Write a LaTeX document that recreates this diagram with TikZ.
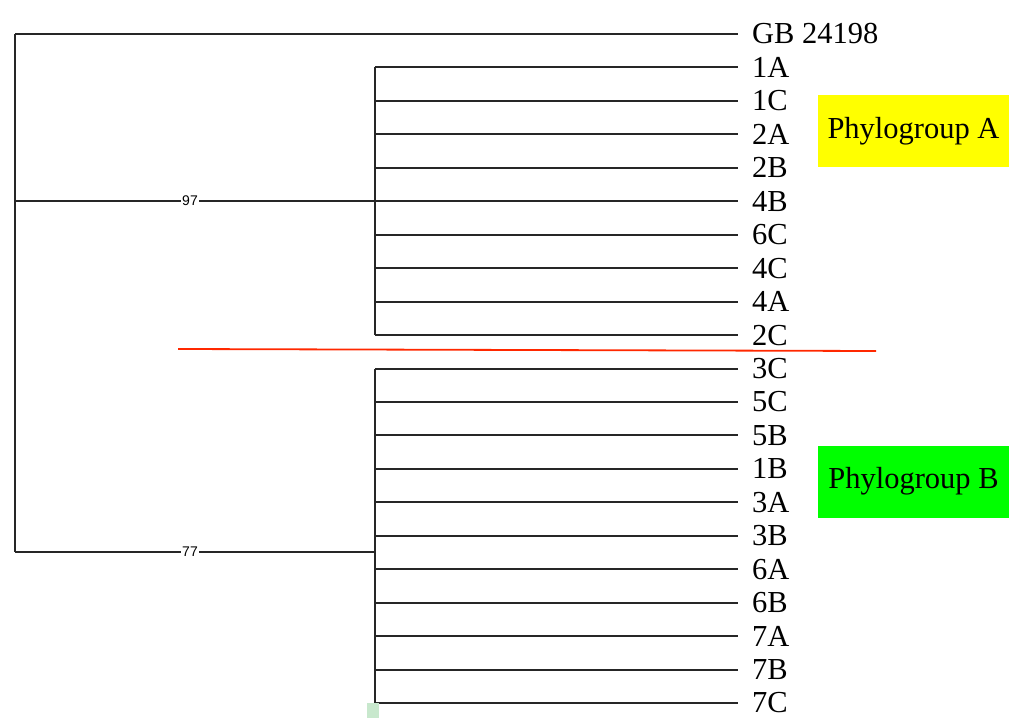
\documentclass[tikz,border=0pt]{standalone}
\usepackage{fontspec}
\setmainfont{Liberation Serif}
\newfontfamily\smallsans{Liberation Sans}
\begin{document}
\begin{tikzpicture}[x=1pt,y=-1pt,
  branch/.style={line width=2pt,black!85},
  leaf/.style={anchor=west,font=\fontsize{30.5}{30.5}\selectfont,inner sep=0pt},
  boot/.style={fill=white,inner sep=1pt,font=\smallsans\fontsize{14}{14}\selectfont},
  groupbox/.style={minimum width=191pt,minimum height=72pt,inner sep=0pt,font=\fontsize{30.5}{30.5}\selectfont}]
\useasboundingbox (0,0) rectangle (1024,727);
% root
\coordinate (r) at (15,34);
\coordinate (ra) at (15,201);
\coordinate (rb) at (15,552);
\draw[branch] (r) -- (rb);
% GB leaf
\node[leaf] (gb) at (752,34) {GB 24198};
\draw[branch] (r) -- (738,34);
% clade A
\coordinate (na) at (375,201);
\draw[branch] (ra) -- (na);
\node[boot] (b97) at (190,201) {97};
\foreach \n [count=\i] in {1A,1C,2A,2B,4B,6C,4C,4A,2C}{
  \pgfmathsetmacro{\yy}{34+33.45*\i}
  \node[leaf] (L\n) at (752,\yy) {\n};
  \draw[branch] (375,\yy) -- (738,\yy);
}
\draw[branch] (375,67.45) -- (375,335.05);
% clade B
\coordinate (nb) at (375,552);
\draw[branch] (rb) -- (nb);
\node[boot] (b77) at (190,552) {77};
\foreach \n [count=\i from 10] in {3C,5C,5B,1B,3A,3B,6A,6B,7A,7B,7C}{
  \pgfmathsetmacro{\yy}{34+33.45*\i}
  \node[leaf] (L\n) at (752,\yy) {\n};
  \draw[branch] (375,\yy) -- (738,\yy);
}
\draw[branch] (375,368.5) -- (375,703);
% separator
\coordinate (s1) at (178,349);
\coordinate (s2) at (876,351);
\draw[line width=1.8pt,color={rgb,255:red,255;green,40;blue,0}] (s1) -- (s2);
% group boxes
\node[groupbox,fill={rgb,255:red,255;green,255;blue,0}] (pa) at (913.5,131) {Phylogroup A};
\node[groupbox,fill={rgb,255:red,0;green,255;blue,0}] (pb) at (913.5,481.5) {Phylogroup B};
% small marker
\fill[color={rgb,255:red,200;green,232;blue,205}] (367,703) rectangle (379,718);
\end{tikzpicture}
\end{document}
